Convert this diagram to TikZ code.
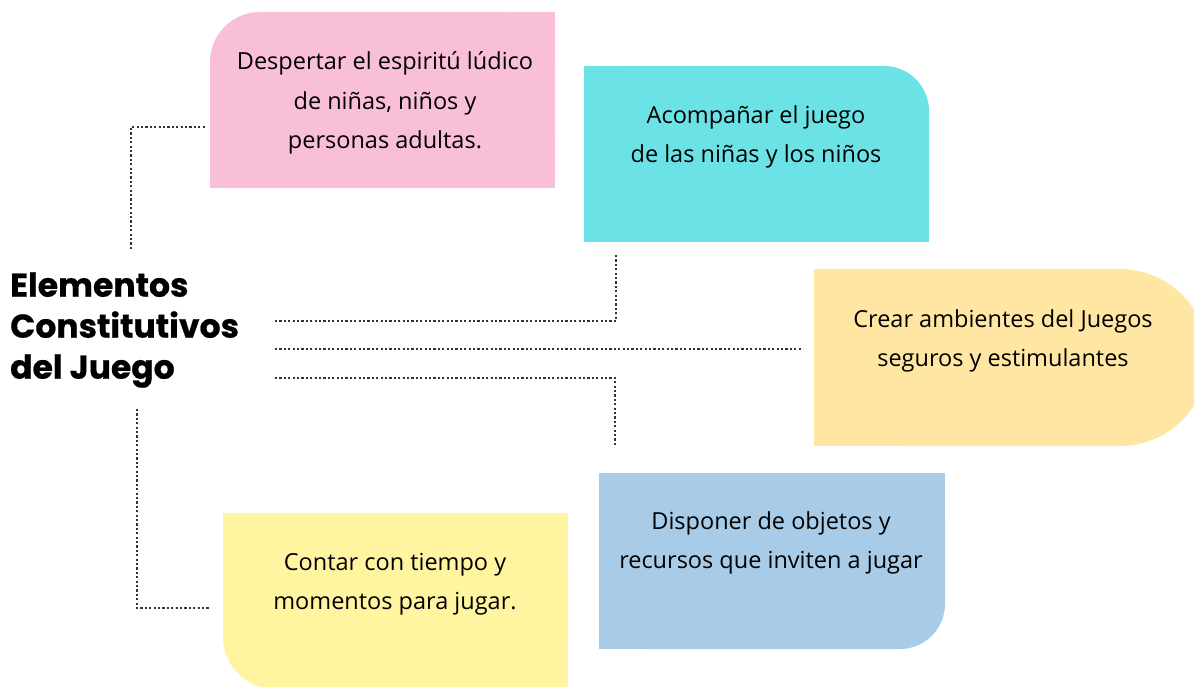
\documentclass[tikz,border=0pt]{standalone}
\usepackage{fontspec}
\setmainfont{Open Sans}
\newfontfamily\titlefont{Poppins}
\usetikzlibrary{backgrounds}
\definecolor{pinkc}{HTML}{F9BFD8}
\definecolor{cyanc}{HTML}{6AE2E6}
\definecolor{orangec}{HTML}{FFE7A3}
\definecolor{bluec}{HTML}{A8CCE8}
\definecolor{yellowc}{HTML}{FFF5A0}
\definecolor{linec}{HTML}{333333}
\tikzset{
  boxn/.style={inner sep=0pt, outer sep=0pt},
  txt/.style={align=center, inner sep=0pt, font=\fontsize{23.5}{39.5}\selectfont},
  conn/.style={draw=linec, line width=1.1pt, dash pattern=on 2.2pt off 2.2pt},
}
\begin{document}
\begin{tikzpicture}[x=1pt,y=-1pt]
\useasboundingbox (0,0) rectangle (1194,687);
% pink: top-left rounded
\fill[pinkc, rounded corners=50pt] (210,12) rectangle (555,188);
\fill[pinkc] (260,12) rectangle (555,188);
\fill[pinkc] (210,62) rectangle (555,188);
% cyan: top-right rounded
\fill[cyanc, rounded corners=45pt] (584,66) rectangle (929,242);
\fill[cyanc] (584,66) rectangle (884,242);
\fill[cyanc] (584,111) rectangle (929,242);
% orange: right side rounded
\fill[orangec, rounded corners=88pt] (814,269) rectangle (1208,446);
\fill[orangec] (814,269) rectangle (1120,446);
% blue: bottom-right rounded
\fill[bluec, rounded corners=45pt] (599,473) rectangle (945,649);
\fill[bluec] (599,473) rectangle (900,649);
\fill[bluec] (599,473) rectangle (945,604);
% yellow: bottom-left rounded
\fill[yellowc, rounded corners=52pt] (223,513) rectangle (568,689);
\fill[yellowc] (275,513) rectangle (568,689);
\fill[yellowc] (223,513) rectangle (568,637);

% title
\node[anchor=west, align=left, inner sep=0pt, font=\titlefont\bfseries\addfontfeature{FakeBold=0.6}\fontsize{33}{41}\selectfont] (title) at (10,330) {Elementos\\Constitutivos\\del Juego};

% texts
\node[txt] (t1) at (385,103) {Despertar el espiritú lúdico\\de niñas, niños y\\personas adultas.};
\node[txt] (t2) at (756,137) {Acompañar el juego\\de las niñas y los niños};
\node[txt] (t3) at (1003,341) {Crear ambientes del Juegos\\seguros y estimulantes};
\node[txt] (t4) at (771,543) {Disponer de objetos y\\recursos que inviten a jugar};
\node[txt] (t5) at (395,584) {Contar con tiempo y\\momentos para jugar.};

% connector end points
\coordinate (c1a) at (131,249);
\coordinate (c1b) at (205,127);
\coordinate (c2a) at (275,321);
\coordinate (c2b) at (616,255);
\coordinate (c3a) at (275,349);
\coordinate (c3b) at (803,349);
\coordinate (c4a) at (275,378);
\coordinate (c4b) at (615,446);
\coordinate (c5a) at (137,409);
\coordinate (c5b) at (210,608);

\draw[conn] (c1a) |- (c1b);
\draw[conn] (c2a) -| (c2b);
\draw[conn] (c3a) -- (c3b);
\draw[conn] (c4a) -| (c4b);
\draw[conn] (c5a) |- (c5b);
\end{tikzpicture}
\end{document}
